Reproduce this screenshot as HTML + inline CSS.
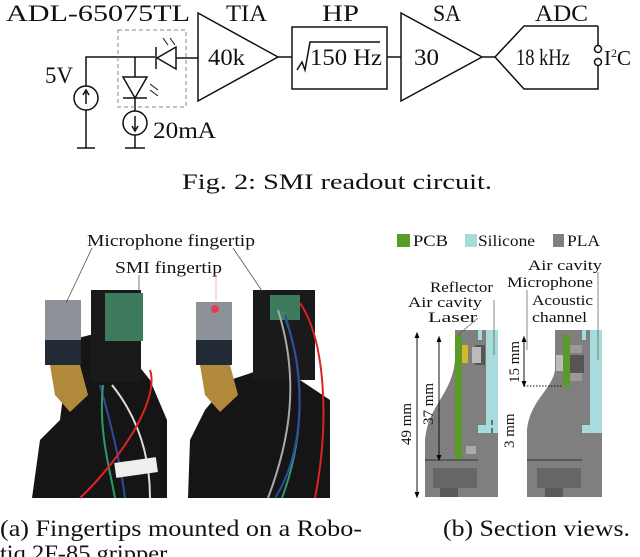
<!DOCTYPE html>
<html><head><meta charset="utf-8"><style>
html,body{margin:0;padding:0;background:#fff;}
svg{display:block;}
text{font-family:"Liberation Serif",serif;fill:#111;}
</style></head><body>
<svg width="640" height="557" viewBox="0 0 640 557" xmlns="http://www.w3.org/2000/svg">
<g stroke="#111" stroke-width="1.5" fill="none">
  <polyline points="86,148 86,110"/>
  <circle cx="86" cy="98" r="12"/>
  <line x1="86" y1="104" x2="86" y2="91"/>
  <polyline points="83,95 86,90 89,95"/>
  <polyline points="86,86 86,57 155,57"/>
  <line x1="77" y1="148" x2="95" y2="148"/>
  <polygon points="176,47 176,69 157,58"/>
  <line x1="156" y1="47" x2="156" y2="69"/>
  <line x1="176" y1="58" x2="198" y2="58"/>
  <line x1="135" y1="57" x2="135" y2="77"/>
  <polygon points="123,77 147,77 135,98"/>
  <line x1="123" y1="98" x2="147" y2="98"/>
  <line x1="135" y1="98" x2="135" y2="111"/>
  <circle cx="135" cy="123" r="12"/>
  <line x1="135" y1="116" x2="135" y2="130"/>
  <polyline points="132,126 135,131 138,126"/>
  <line x1="135" y1="135" x2="135" y2="148"/>
  <line x1="125" y1="148" x2="145" y2="148"/>
  <polygon points="198,13 198,101 278,57"/>
  <line x1="278" y1="57" x2="292" y2="57"/>
  <rect x="292" y="27" width="95" height="62"/>
  <polyline points="297,70 302,62 305,70 310,42 380,42"/>
  <line x1="387" y1="57" x2="401" y2="57"/>
  <polygon points="401,13 401,101 482,57"/>
  <line x1="482" y1="57" x2="495" y2="57"/>
  <polyline points="598,26 524,26 495,57 524,89 598,89 598,66"/>
  <line x1="598" y1="26" x2="598" y2="45"/>
  <circle cx="598" cy="49" r="3.5"/>
  <circle cx="598" cy="62" r="3.5"/>
</g>
<g stroke="#111" stroke-width="1" fill="none">
  <line x1="163" y1="38" x2="168" y2="45"/><line x1="170" y1="38" x2="175" y2="45"/>
  <line x1="150" y1="84" x2="158" y2="90"/><line x1="150" y1="90" x2="158" y2="96"/>
</g>
<rect x="118" y="30" width="68" height="77" fill="none" stroke="#888" stroke-width="1" stroke-dasharray="4,3"/>
<g font-size="23">
  <text x="6" y="21" textLength="184" lengthAdjust="spacingAndGlyphs">ADL-65075TL</text>
  <text x="226" y="21" textLength="41" lengthAdjust="spacingAndGlyphs">TIA</text>
  <text x="322" y="21" textLength="37" lengthAdjust="spacingAndGlyphs">HP</text>
  <text x="433" y="21" textLength="28" lengthAdjust="spacingAndGlyphs">SA</text>
  <text x="535" y="21" textLength="53" lengthAdjust="spacingAndGlyphs">ADC</text>
  <text x="208" y="65" textLength="37" lengthAdjust="spacingAndGlyphs">40k</text>
  <text x="310" y="65" textLength="72" lengthAdjust="spacingAndGlyphs">150 Hz</text>
  <text x="414" y="65" textLength="25" lengthAdjust="spacingAndGlyphs">30</text>
  <text x="516" y="65" textLength="54" lengthAdjust="spacingAndGlyphs">18 kHz</text>
  <text x="604" y="65" font-size="21">I<tspan font-size="12" dy="-8">2</tspan><tspan dy="8">C</tspan></text>
  <text x="45" y="83" textLength="28" lengthAdjust="spacingAndGlyphs">5V</text>
  <text x="153" y="138" textLength="63" lengthAdjust="spacingAndGlyphs">20mA</text>
  <text x="182" y="189" font-size="22" textLength="310" lengthAdjust="spacingAndGlyphs">Fig. 2: SMI readout circuit.</text>
</g>

<g>
  <path d="M32,498 L40,440 L60,420 L70,340 L110,330 L150,380 L167,420 L167,498 Z" fill="#151515"/>
  <rect x="91" y="290" width="50" height="92" fill="#1a1a1a"/>
  <rect x="105" y="293" width="38" height="48" fill="#3e7a5e"/>
  <rect x="45" y="300" width="36" height="40" fill="#8d9299"/>
  <rect x="45" y="340" width="36" height="25" fill="#222a35"/>
  <path d="M50,365 L80,365 L88,395 L70,412 L55,395 Z" fill="#b08a3a"/>
  <path d="M100,385 C110,420 120,460 125,498" stroke="#2f4aa0" stroke-width="2" fill="none"/>
  <path d="M103,385 C98,430 110,470 115,498" stroke="#2a9a6a" stroke-width="2" fill="none"/>
  <path d="M112,385 C140,420 150,460 150,498" stroke="#ddd" stroke-width="2" fill="none"/>
  <path d="M150,370 C160,400 120,460 80,498" stroke="#d22" stroke-width="2" fill="none"/>
  <rect x="115" y="460" width="42" height="15" fill="#eee" transform="rotate(-8 136 467)"/>
</g>
<g>
  <path d="M188,498 L190,440 L205,410 L230,380 L260,370 L300,380 L330,400 L330,498 Z" fill="#151515"/>
  <rect x="253" y="290" width="62" height="90" fill="#1a1a1a"/>
  <rect x="270" y="295" width="30" height="25" fill="#3e7a5e"/>
  <rect x="196" y="302" width="36" height="40" fill="#8d9299"/>
  <circle cx="215" cy="309" r="4" fill="#e04050"/>
  <rect x="196" y="340" width="36" height="25" fill="#222a35"/>
  <path d="M200,365 L230,365 L238,395 L220,412 L205,395 Z" fill="#b08a3a"/>
  <path d="M278,310 C300,380 290,440 268,498" stroke="#aaa" stroke-width="2" fill="none"/>
  <path d="M283,312 C310,380 300,450 282,498" stroke="#2a9a6a" stroke-width="2" fill="none"/>
  <path d="M285,315 C310,390 300,460 275,498" stroke="#2f4aa0" stroke-width="2" fill="none"/>
  <path d="M300,303 C325,340 330,420 315,498" stroke="#d22" stroke-width="2" fill="none"/>
</g>
<g stroke="#555" stroke-width="0.8">
  <line x1="92" y1="248" x2="66" y2="303"/>
  <line x1="233" y1="248" x2="262" y2="291"/>
  <line x1="139" y1="275" x2="139" y2="291"/>
  <line x1="216" y1="275" x2="216" y2="300" stroke="#eaa"/>
</g>
<g font-size="17">
  <text x="87" y="246" textLength="168" lengthAdjust="spacingAndGlyphs">Microphone fingertip</text>
  <text x="115" y="273" textLength="107" lengthAdjust="spacingAndGlyphs">SMI fingertip</text>
</g>
<g font-size="23">
  <text x="0" y="536" textLength="362" lengthAdjust="spacingAndGlyphs">(a) Fingertips mounted on a Robo-</text>
  <text x="0" y="561" textLength="172" lengthAdjust="spacingAndGlyphs">tiq 2F-85 gripper.</text>
  <text x="443" y="536" textLength="187" lengthAdjust="spacingAndGlyphs">(b) Section views.</text>
</g>

<rect x="397" y="234" width="13" height="13" fill="#5a9a28"/>
<text x="413" y="246" font-size="16" textLength="35" lengthAdjust="spacingAndGlyphs">PCB</text>
<rect x="465" y="234" width="12" height="13" fill="#a8dcdc"/>
<text x="478" y="246" font-size="16" textLength="57" lengthAdjust="spacingAndGlyphs">Silicone</text>
<rect x="553" y="234" width="11" height="13" fill="#808080"/>
<text x="567" y="246" font-size="16" textLength="33" lengthAdjust="spacingAndGlyphs">PLA</text>

<rect x="478" y="330" width="20" height="103" fill="#a8dcdc"/>
<path d="M455,330 L478,330 L478,340 L482,340 L482,330 L486,330 L486,425 L478,425 L478,433 L498,433 L498,497 L425,497 L425,440 C428,405 452,395 455,360 Z" fill="#7f7f7f"/>
<rect x="475" y="345" width="10" height="20" fill="#555"/>
<rect x="472" y="347" width="9" height="16" fill="#bbb"/>
<rect x="455" y="335" width="7" height="125" fill="#5a9a28"/>
<rect x="462" y="345" width="6" height="18" fill="#d4b82c"/>
<rect x="466" y="446" width="10" height="8" fill="#aaa"/>
<line x1="425" y1="460" x2="478" y2="460" stroke="#333" stroke-width="1"/>
<rect x="433" y="468" width="44" height="20" fill="#666"/>
<rect x="440" y="488" width="18" height="9" fill="#5a5a5a"/>
<g stroke="#111" stroke-width="1">
  <line x1="417" y1="334" x2="417" y2="496"/>
  <line x1="439" y1="338" x2="439" y2="459"/>
  <polyline points="415,338 417,333 419,338"/><polyline points="415,492 417,497 419,492"/>
  <polyline points="437,342 439,337 441,342"/><polyline points="437,455 439,460 441,455"/>
  <line x1="492" y1="420" x2="492" y2="425"/><line x1="492" y1="428" x2="492" y2="433"/>
</g>
<text transform="translate(411,445) rotate(-90)" font-size="15">49 mm</text>
<text transform="translate(433,425) rotate(-90)" font-size="15">37 mm</text>

<rect x="582" y="330" width="20" height="103" fill="#a8dcdc"/>
<path d="M555,330 L582,330 L582,340 L586,340 L586,330 L590,330 L590,425 L582,425 L582,433 L602,433 L602,497 L527,497 L527,430 C530,400 552,390 555,370 Z" fill="#7f7f7f"/>
<rect x="570" y="345" width="12" height="8" fill="#999"/>
<rect x="570" y="373" width="12" height="8" fill="#999"/>
<rect x="568" y="355" width="16" height="18" fill="#555"/>
<rect x="556" y="355" width="8" height="16" fill="#bbb"/>
<rect x="563" y="335" width="7" height="52" fill="#5a9a28"/>
<line x1="527" y1="460" x2="582" y2="460" stroke="#333" stroke-width="1"/>
<rect x="537" y="468" width="44" height="20" fill="#666"/>
<rect x="545" y="488" width="18" height="9" fill="#5a5a5a"/>
<g stroke="#111" stroke-width="1">
  <line x1="524" y1="338" x2="524" y2="385"/>
  <polyline points="522,342 524,337 526,342"/><polyline points="522,381 524,386 526,381"/>
  <line x1="524" y1="386" x2="563" y2="386" stroke-dasharray="1.5,1.5"/>
</g>
<text transform="translate(519,383) rotate(-90)" font-size="15">15 mm</text>
<text transform="translate(514,448) rotate(-90)" font-size="15">3 mm</text>
<g stroke="#555" stroke-width="0.7">
  <line x1="494" y1="300" x2="494" y2="355"/>
  <line x1="478" y1="318" x2="458" y2="335"/>
  <line x1="527" y1="290" x2="527" y2="350"/>
  <line x1="598" y1="272" x2="598" y2="360"/>
</g>
<g font-size="15">
  <text x="430" y="292" textLength="63" lengthAdjust="spacingAndGlyphs">Reflector</text>
  <text x="408" y="307" textLength="74" lengthAdjust="spacingAndGlyphs">Air cavity</text>
  <text x="428" y="322" textLength="49" lengthAdjust="spacingAndGlyphs">Laser</text>
  <text x="528" y="270" textLength="74" lengthAdjust="spacingAndGlyphs">Air cavity</text>
  <text x="507" y="287" textLength="86" lengthAdjust="spacingAndGlyphs">Microphone</text>
  <text x="532" y="305" textLength="61" lengthAdjust="spacingAndGlyphs">Acoustic</text>
  <text x="532" y="322" textLength="55" lengthAdjust="spacingAndGlyphs">channel</text>
</g>
</svg>
</body></html>
